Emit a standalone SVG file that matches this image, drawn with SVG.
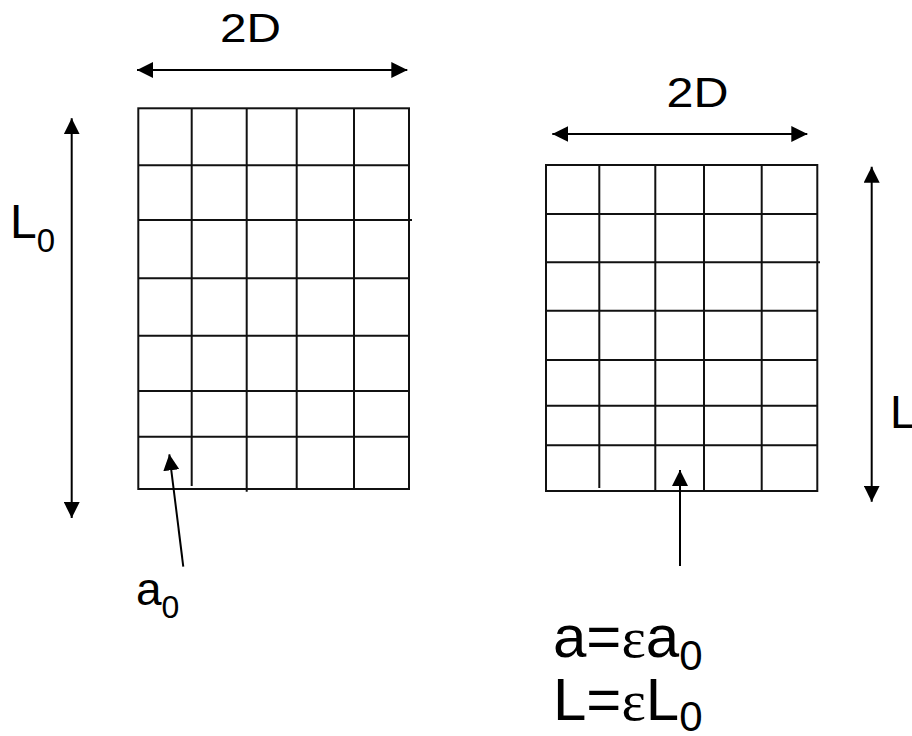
<svg xmlns="http://www.w3.org/2000/svg" width="912" height="736" viewBox="0 0 912 736">
<defs>
<marker id="ah" viewBox="0 0 16 16" refX="16" refY="8" markerWidth="16" markerHeight="16" markerUnits="userSpaceOnUse" orient="auto-start-reverse">
<path d="M0,0 L16,8 L0,16 z" fill="#000"/>
</marker>
<style>
.g{stroke:#111;stroke-width:2;fill:none}
.c{stroke:#000;stroke-width:2;fill:none}
.t{font-family:"Liberation Sans",Arial,sans-serif;fill:#000}
.e{font-family:"Liberation Serif","Times New Roman",serif;fill:#000}
</style>
</defs>
<rect width="912" height="736" fill="#fff"/>
<g id="grid-left" class="g">
<rect x="138.3" y="108.3" width="270.7" height="380.7"/>
<line x1="191.7" y1="108.3" x2="191.7" y2="486"/>
<line x1="246.7" y1="108.3" x2="246.7" y2="491.7"/>
<line x1="296.7" y1="108.3" x2="296.7" y2="489"/>
<line x1="354" y1="108.3" x2="354" y2="489"/>
<line x1="138.3" y1="165.3" x2="409" y2="165.3"/>
<line x1="138.3" y1="220" x2="412" y2="220"/>
<line x1="138.3" y1="278.3" x2="409" y2="278.3"/>
<line x1="138.3" y1="335.7" x2="409" y2="335.7"/>
<line x1="138.3" y1="391" x2="409" y2="391"/>
<line x1="138.3" y1="436.7" x2="409" y2="436.7"/>
</g>
<g id="grid-right" class="g">
<rect x="546" y="165" width="271.3" height="326"/>
<line x1="599.3" y1="165" x2="599.3" y2="488"/>
<line x1="655.3" y1="165" x2="655.3" y2="491"/>
<line x1="704" y1="165" x2="704" y2="491"/>
<line x1="761.7" y1="165" x2="761.7" y2="491"/>
<line x1="546" y1="214" x2="817.3" y2="214"/>
<line x1="546" y1="262.3" x2="820" y2="262.3"/>
<line x1="546" y1="310.7" x2="817.3" y2="310.7"/>
<line x1="546" y1="360" x2="817.3" y2="360"/>
<line x1="546" y1="405.7" x2="817.3" y2="405.7"/>
<line x1="546" y1="445.3" x2="817.3" y2="445.3"/>
</g>
<g id="connectors" class="c">
<line x1="137" y1="70" x2="407.3" y2="70" marker-start="url(#ah)" marker-end="url(#ah)"/>
<line x1="71.7" y1="118.3" x2="71.7" y2="518" marker-start="url(#ah)" marker-end="url(#ah)"/>
<line x1="552.3" y1="134" x2="807.3" y2="134" marker-start="url(#ah)" marker-end="url(#ah)"/>
<line x1="871.7" y1="166.7" x2="871.7" y2="501.7" marker-start="url(#ah)" marker-end="url(#ah)"/>
<line x1="183.3" y1="566.7" x2="169.3" y2="454.3" marker-end="url(#ah)"/>
<line x1="680" y1="566" x2="680" y2="470" marker-end="url(#ah)"/>
</g>
<g id="label-2D-left"><text class="t" x="220" y="41.7" font-size="41" textLength="61" lengthAdjust="spacingAndGlyphs">2D</text></g>
<g id="label-2D-right"><text class="t" x="666.5" y="106.7" font-size="42" textLength="62" lengthAdjust="spacingAndGlyphs">2D</text></g>
<g id="label-L0"><text class="t" x="10" y="238" font-size="48">L<tspan font-size="33" dy="14">0</tspan></text></g>
<g id="label-L"><text class="t" x="890" y="428" font-size="46">L</text></g>
<g id="label-a0"><text class="t" x="136" y="605" font-size="46">a<tspan font-size="32" dy="13">0</tspan></text></g>
<g id="label-formula">
<text class="t" x="553" y="657" font-size="60">a=<tspan class="e" font-size="58">ε</tspan>a<tspan font-size="42" dy="13">0</tspan></text>
<text class="t" x="553" y="720" font-size="60">L=<tspan class="e" font-size="58">ε</tspan>L<tspan font-size="42" dy="11">0</tspan></text>
</g>
</svg>
